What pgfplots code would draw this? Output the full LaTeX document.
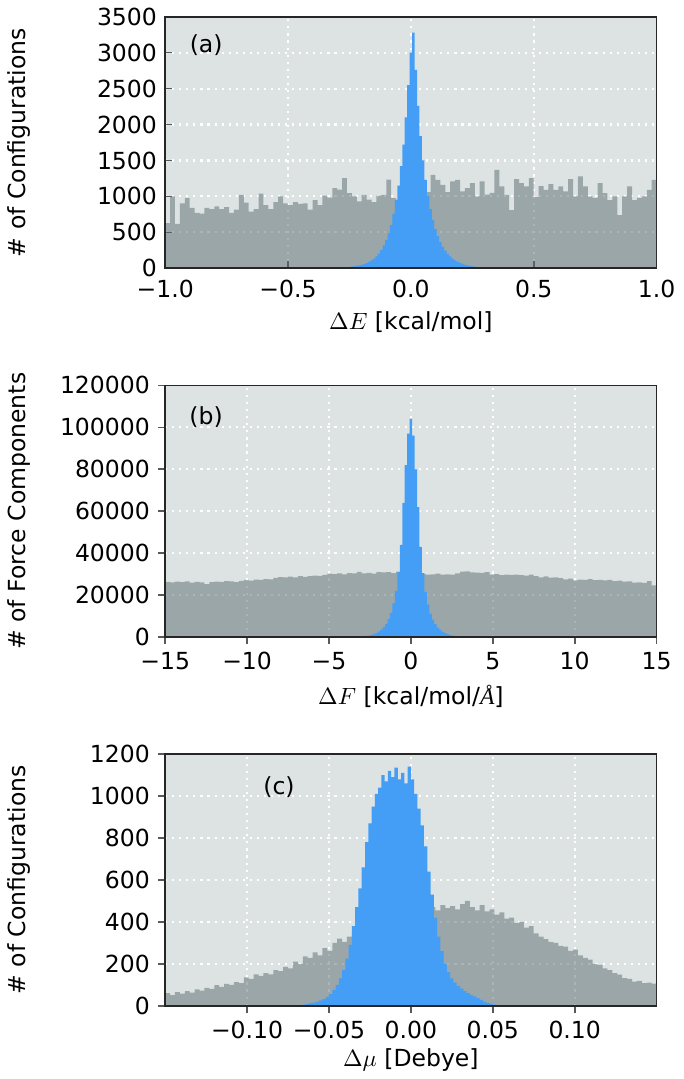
\documentclass[border=0pt]{standalone}
\usepackage{fontspec}
\setmainfont{DejaVu Sans}
\newfontfamily\serifit{Liberation Serif}
\usepackage{pgfplots}
\pgfplotsset{compat=1.18}
\definecolor{bgc}{RGB}{221,227,227}
\definecolor{grayb}{RGB}{89,107,111}
\definecolor{blueb}{RGB}{69,158,245}
\pgfplotsset{
  hist/.style={
    scale only axis, width=209pt, height=107pt,
    axis background/.style={fill=bgc},
    grid=major,
    major grid style={white, line width=0.9pt, dash pattern=on 0.9pt off 2.1pt},
    axis line style={line width=0.7pt, black!85},
    xtick pos=bottom, ytick pos=left,
    major tick length=3pt,
    tick style={line width=0.7pt, black!65},
    scaled y ticks=false, scaled x ticks=false,
    ylabel style={at={(axis description cs:-0.297,0.5)}, anchor=center},
    xlabel style={at={(axis description cs:0.5,0)}, anchor=center, yshift=-23pt},
    ymin=0,
  },
  grayhist/.style={const plot, fill=grayb, fill opacity=0.5, draw=none},
  bluehist/.style={const plot, fill=blueb, draw=none},
}
\begin{document}
\begin{tikzpicture}
% ---------------- (a)
\begin{axis}[hist, at={(0,0)}, anchor=north west,
  xmin=-1, xmax=1, ymax=3500, tick align=inside,
  xtick={-1,-0.5,0,0.5,1}, xticklabels={−1.0,−0.5,0.0,0.5,1.0},
  xticklabel style={yshift=-1.6pt},
  ytick={0,500,1000,1500,2000,2500,3000,3500},
  yticklabels={0,500,1000,1500,2000,2500,3000,3500},
  xlabel={$\Delta E$ [kcal/mol]}, ylabel={\# of Configurations}]
\addplot[grayhist] coordinates {
(-1.00,630)(-0.98,1000)(-0.96,620)(-0.94,905)(-0.92,975)(-0.90,840)(-0.88,770)(-0.86,760)(-0.84,840)(-0.82,825)
(-0.80,860)(-0.78,825)(-0.76,850)(-0.74,770)(-0.72,815)(-0.70,1020)(-0.68,915)(-0.66,790)(-0.64,825)(-0.62,1040)
(-0.60,880)(-0.58,825)(-0.56,920)(-0.54,1000)(-0.52,905)(-0.50,880)(-0.48,920)(-0.46,895)(-0.44,905)(-0.42,815)
(-0.40,950)(-0.38,880)(-0.36,1010)(-0.34,985)(-0.32,1115)(-0.30,1095)(-0.28,1255)(-0.26,1045)(-0.24,1000)(-0.22,930)
(-0.20,1020)(-0.18,955)(-0.16,920)(-0.14,1010)(-0.12,1020)(-0.10,1235)(-0.08,975)(-0.06,955)(-0.04,1000)(-0.02,1020)
(0.00,990)(0.02,1040)(0.04,1010)(0.06,1060)(0.08,1300)(0.10,1230)(0.12,1160)(0.14,1060)(0.16,1210)(0.18,1230)
(0.20,1070)(0.22,1115)(0.24,1185)(0.26,1000)(0.28,1210)(0.30,1025)(0.32,1050)(0.34,1370)(0.36,1140)(0.38,1020)
(0.40,810)(0.42,1240)(0.44,1185)(0.46,1140)(0.48,1255)(0.50,990)(0.52,1145)(0.54,1090)(0.56,1170)(0.58,1090)
(0.60,1140)(0.62,1070)(0.64,1240)(0.66,1000)(0.68,1280)(0.70,1140)(0.72,1000)(0.74,980)(0.76,1185)(0.78,1045)
(0.80,950)(0.82,1000)(0.84,740)(0.86,1000)(0.88,1140)(0.90,950)(0.92,980)(0.94,1000)(0.96,1090)(0.98,1230)(1.00,1230)
} \closedcycle;
\addplot[bluehist] coordinates {
(-0.295,8)(-0.285,10)(-0.275,12)(-0.265,15)(-0.255,18)(-0.245,22)(-0.235,27)(-0.225,33)(-0.215,40)(-0.205,49)
(-0.195,60)(-0.185,73)(-0.175,90)(-0.165,110)(-0.155,134)(-0.145,165)(-0.135,205)(-0.125,255)(-0.115,318)(-0.105,395)
(-0.095,485)(-0.085,600)(-0.075,760)(-0.065,950)(-0.055,1150)(-0.045,1420)(-0.035,1720)(-0.025,2100)(-0.015,2550)(-0.005,3000)
(0.005,3280)(0.015,2760)(0.025,2260)(0.035,1840)(0.045,1500)(0.055,1230)(0.065,1010)(0.075,825)(0.085,675)(0.095,550)
(0.105,447)(0.115,366)(0.125,300)(0.135,246)(0.145,201)(0.155,165)(0.165,135)(0.175,111)(0.185,91)(0.195,74)
(0.205,61)(0.215,50)(0.225,41)(0.235,33)(0.245,27)(0.255,22)(0.265,18)(0.275,14)(0.285,11)(0.295,9)(0.305,9)
} \closedcycle;
\node at (axis cs:-0.833,3100) {(a)};
\draw[line width=0.7pt, black!85] (rel axis cs:0,0) rectangle (rel axis cs:1,1);
\end{axis}
% ---------------- (b)
\begin{axis}[hist, at={(0,-156.8pt)}, anchor=north west,
  xmin=-15, xmax=15, ymax=120000, tick align=outside,
  xtick={-15,-10,-5,0,5,10,15}, xticklabels={−15,−10,−5,0,5,10,15},
  ytick={0,20000,40000,60000,80000,100000,120000},
  yticklabels={0,20000,40000,60000,80000,100000,120000},
  xlabel={$\Delta F$ [kcal/mol/{\serifit\itshape Å}]}, ylabel={\# of Force Components},
  xlabel style={yshift=-2.4pt}]
\addplot[grayhist] coordinates {
(-15.0,26300)(-14.7,26100)(-14.4,26400)(-14.1,26200)(-13.8,26500)(-13.5,26000)(-13.2,26300)(-12.9,26100)(-12.6,25200)(-12.3,26200)
(-12.0,26400)(-11.7,26300)(-11.4,26600)(-11.1,26500)(-10.8,26200)(-10.5,26800)(-10.2,27300)(-9.9,26900)(-9.6,27400)(-9.3,27200)
(-9.0,27600)(-8.7,27500)(-8.4,28200)(-8.1,28600)(-7.8,28400)(-7.5,28800)(-7.2,28500)(-6.9,29000)(-6.6,28700)(-6.3,29100)
(-6.0,29300)(-5.7,29200)(-5.4,29600)(-5.1,30200)(-4.8,30000)(-4.5,30400)(-4.2,29900)(-3.9,30500)(-3.6,30300)(-3.3,31100)
(-3.0,30300)(-2.7,30600)(-2.4,30200)(-2.1,31000)(-1.8,30800)(-1.5,31000)(-1.2,30500)(-0.9,31200)(-0.6,30800)(-0.3,31000)
(0.0,30600)(0.3,30200)(0.6,30000)(0.9,29800)(1.2,29900)(1.5,30200)(1.8,29700)(2.1,29900)(2.4,29800)(2.7,30400)
(3.0,31200)(3.3,31300)(3.6,30800)(3.9,30700)(4.2,30600)(4.5,30900)(4.8,29800)(5.1,30000)(5.4,29500)(5.7,29700)
(6.0,29600)(6.3,29800)(6.6,29500)(6.9,29300)(7.2,29800)(7.5,29000)(7.8,28500)(8.1,28900)(8.4,28300)(8.7,28500)
(9.0,28100)(9.3,27500)(9.6,27800)(9.9,27000)(10.2,27400)(10.5,27200)(10.8,27600)(11.1,27100)(11.4,27300)(11.7,27000)
(12.0,27200)(12.3,26700)(12.6,26900)(12.9,26400)(13.2,26500)(13.5,26000)(13.8,26100)(14.1,25800)(14.4,26700)(14.7,24600)(15.0,24600)
} \closedcycle;
\addplot[bluehist] coordinates {
(-3.075,250)(-2.925,350)(-2.775,500)(-2.625,700)(-2.475,1000)(-2.325,1400)(-2.175,1900)(-2.025,2600)(-1.875,3500)(-1.725,4700)
(-1.575,6300)(-1.425,8500)(-1.275,11500)(-1.125,16000)(-0.975,22000)(-0.825,31000)(-0.675,44000)(-0.525,64000)(-0.375,82000)(-0.225,97000)
(-0.075,104000)(0.075,96000)(0.225,80000)(0.375,62000)(0.525,43000)(0.675,30500)(0.825,21500)(0.975,15500)(1.125,11200)(1.275,8300)
(1.425,6100)(1.575,4500)(1.725,3400)(1.875,2500)(2.025,1850)(2.175,1350)(2.325,950)(2.475,680)(2.625,480)(2.775,340)(2.925,240)(3.075,240)
} \closedcycle;
\node at (axis cs:-12.5,104900) {(b)};
\draw[line width=0.7pt, black!85] (rel axis cs:0,0) rectangle (rel axis cs:1,1);
\end{axis}
% ---------------- (c)
\begin{axis}[hist, at={(0,-313.6pt)}, anchor=north west,
  xmin=-0.15, xmax=0.15, ymax=1200, tick align=outside,
  xtick={-0.1,-0.05,0,0.05,0.1}, xticklabels={−0.10,−0.05,0.00,0.05,0.10},
  ytick={0,200,400,600,800,1000,1200},
  yticklabels={0,200,400,600,800,1000,1200},
  xlabel={$\Delta\mu$ [Debye]}, ylabel={\# of Configurations}]
\addplot[grayhist] coordinates {
(-0.150,60)(-0.147,50)(-0.144,65)(-0.141,58)(-0.138,70)(-0.135,62)(-0.132,78)(-0.129,72)(-0.126,85)(-0.123,80)
(-0.120,98)(-0.117,90)(-0.114,104)(-0.111,100)(-0.108,112)(-0.105,108)(-0.102,135)(-0.099,128)(-0.096,150)(-0.093,142)
(-0.090,155)(-0.087,150)(-0.084,170)(-0.081,165)(-0.078,185)(-0.075,178)(-0.072,210)(-0.069,200)(-0.066,235)(-0.063,228)
(-0.060,255)(-0.057,240)(-0.054,275)(-0.051,262)(-0.048,300)(-0.045,320)(-0.042,305)(-0.039,330)(-0.036,345)(-0.033,340)
(-0.030,360)(-0.027,370)(-0.024,375)(-0.021,385)(-0.018,395)(-0.015,405)(-0.012,410)(-0.009,425)(-0.006,430)(-0.003,440)
(0.000,445)(0.003,450)(0.006,455)(0.009,460)(0.012,470)(0.015,455)(0.018,480)(0.021,465)(0.024,475)(0.027,460)
(0.030,485)(0.033,500)(0.036,470)(0.039,455)(0.042,480)(0.045,450)(0.048,460)(0.051,435)(0.054,445)(0.057,415)
(0.060,420)(0.063,395)(0.066,400)(0.069,372)(0.072,380)(0.075,345)(0.078,330)(0.081,318)(0.084,305)(0.087,300)
(0.090,285)(0.093,282)(0.096,262)(0.099,268)(0.102,240)(0.105,228)(0.108,220)(0.111,200)(0.114,195)(0.117,178)
(0.120,170)(0.123,155)(0.126,148)(0.129,132)(0.132,128)(0.135,115)(0.138,118)(0.141,108)(0.144,110)(0.147,105)(0.150,105)
} \closedcycle;
\addplot[bluehist] coordinates {
(-0.066,5)(-0.064,8)(-0.062,12)(-0.060,15)(-0.058,20)(-0.056,25)(-0.054,32)(-0.052,42)(-0.050,55)(-0.048,75)
(-0.046,100)(-0.044,130)(-0.042,170)(-0.040,225)(-0.038,290)(-0.036,380)(-0.034,470)(-0.032,560)(-0.030,660)(-0.028,780)
(-0.026,870)(-0.024,950)(-0.022,1010)(-0.020,1040)(-0.018,1100)(-0.016,1070)(-0.014,1120)(-0.012,1090)(-0.010,1135)(-0.008,1080)
(-0.006,1110)(-0.004,1060)(-0.002,1140)(0.000,1080)(0.002,1010)(0.004,940)(0.006,860)(0.008,760)(0.010,640)(0.012,530)
(0.014,420)(0.016,330)(0.018,260)(0.020,200)(0.022,160)(0.024,130)(0.026,110)(0.028,95)(0.030,82)(0.032,70)
(0.034,60)(0.036,52)(0.038,45)(0.040,36)(0.042,28)(0.044,20)(0.046,14)(0.048,9)(0.050,5)(0.052,3)(0.054,3)
} \closedcycle;
\node at (axis cs:-0.0805,1044) {(c)};
\draw[line width=0.7pt, black!85] (rel axis cs:0,0) rectangle (rel axis cs:1,1);
\end{axis}
\end{tikzpicture}
\end{document}
